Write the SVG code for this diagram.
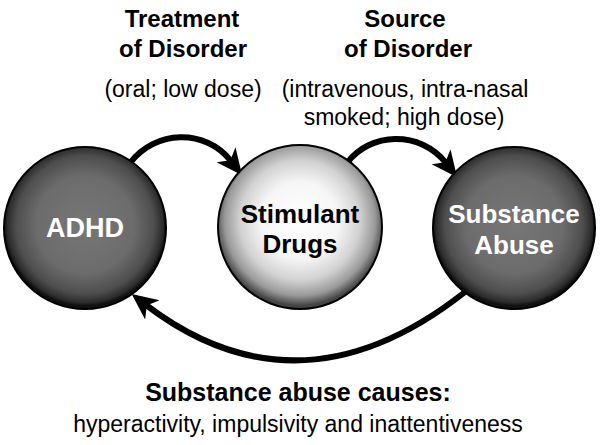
<svg xmlns="http://www.w3.org/2000/svg" width="600" height="445" viewBox="0 0 600 445">
<style>
text{font-family:"Liberation Sans",Arial,Helvetica,sans-serif;text-anchor:middle}
.b{font-weight:bold}
.t{font-size:24px;font-weight:bold;fill:#000}
.s{font-size:23px;fill:#000}
.w{fill:#fff;font-weight:bold;font-size:26px}
.k{fill:#000;font-weight:bold;font-size:26px}
.node{stroke:#000;stroke-width:2}
.arr{fill:none;stroke:#000;stroke-width:6}
</style>
<defs>
<radialGradient id="dark" cx="50%" cy="48%" r="50%">
<stop offset="0" stop-color="#777"/>
<stop offset="0.6" stop-color="#6c6c6c"/>
<stop offset="0.85" stop-color="#4e4e4e"/>
<stop offset="0.96" stop-color="#2c2c2c"/>
<stop offset="1" stop-color="#111"/>
</radialGradient>
<radialGradient id="light" cx="50%" cy="46%" r="52%">
<stop offset="0" stop-color="#fff"/>
<stop offset="0.45" stop-color="#f6f6f6"/>
<stop offset="0.7" stop-color="#d2d2d2"/>
<stop offset="0.88" stop-color="#9a9a9a"/>
<stop offset="1" stop-color="#444"/>
</radialGradient>
<marker id="ah" markerUnits="userSpaceOnUse" markerWidth="34" markerHeight="34" viewBox="0 -17 34 34" refX="8" refY="0" orient="auto">
<path d="M0,-12 L26,0 L0,12 L7,0 Z" fill="#000"/>
</marker>
</defs>
<g id="connectors">
<path class="arr" d="M130,163 C155,130 205,128 231,161" marker-end="url(#ah)"/>
<path class="arr" d="M347,163 C370,132 420,130 446,163" marker-end="url(#ah)"/>
<path class="arr" d="M465,292 Q300,422 146,305" marker-end="url(#ah)"/>
</g>
<g id="adhd">
<circle class="node" cx="85" cy="228" r="81" fill="url(#dark)"/>
<text class="w" x="85" y="237" style="font-size:27px">ADHD</text>
</g>
<g id="stimulant">
<circle class="node" cx="300" cy="227" r="82" fill="url(#light)"/>
<text class="k" x="300" y="223">Stimulant</text>
<text class="k" x="300" y="253">Drugs</text>
</g>
<g id="substance">
<circle class="node" cx="514" cy="228" r="81" fill="url(#dark)"/>
<text class="w" x="514" y="223">Substance</text>
<text class="w" x="514" y="254">Abuse</text>
</g>
<g id="label-treatment">
<text class="t" x="182" y="27">Treatment</text>
<text class="t" x="183" y="57">of Disorder</text>
<text class="s" x="183" y="97">(oral; low dose)</text>
</g>
<g id="label-source">
<text class="t" x="405" y="27">Source</text>
<text class="t" x="408" y="57">of Disorder</text>
<text class="s" x="405" y="97">(intravenous, intra-nasal</text>
<text class="s" x="404" y="125">smoked; high dose)</text>
</g>
<g id="label-bottom">
<text class="t" x="298" y="401" style="font-size:25px">Substance abuse causes:</text>
<text class="s" x="298" y="432">hyperactivity, impulsivity and inattentiveness</text>
</g>
</svg>
